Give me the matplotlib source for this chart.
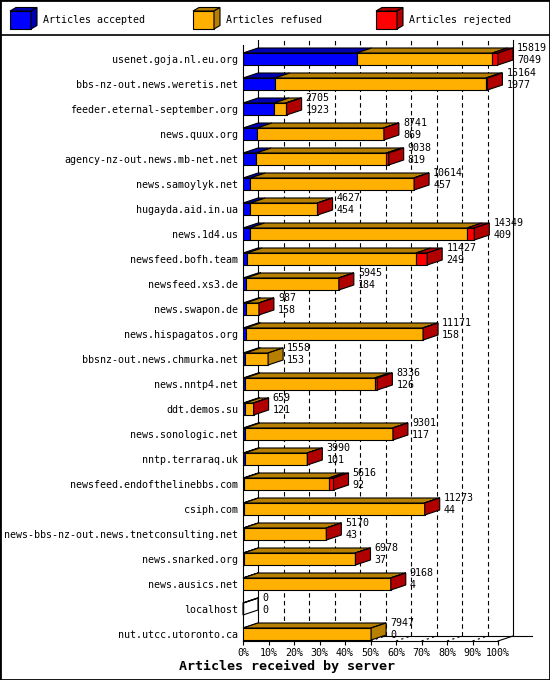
import numpy as np
import matplotlib
matplotlib.use('Agg')
import matplotlib.pyplot as plt
from matplotlib.patches import Polygon, Rectangle
from matplotlib.lines import Line2D

SERVERS = [
  'usenet.goja.nl.eu.org', 'bbs-nz-out.news.weretis.net',
  'feeder.eternal-september.org', 'news.quux.org',
  'agency-nz-out.news.mb-net.net', 'news.samoylyk.net',
  'hugayda.aid.in.ua', 'news.1d4.us', 'newsfeed.bofh.team',
  'newsfeed.xs3.de', 'news.swapon.de', 'news.hispagatos.org',
  'bbsnz-out.news.chmurka.net', 'news.nntp4.net', 'ddt.demos.su',
  'news.sonologic.net', 'nntp.terraraq.uk', 'newsfeed.endofthelinebbs.com',
  'csiph.com', 'news-bbs-nz-out.news.tnetconsulting.net',
  'news.snarked.org', 'news.ausics.net', 'localhost', 'nut.utcc.utoronto.ca',
]
TOTAL = [15819, 15164, 2705, 8741, 9038, 10614, 4627, 14349, 11427, 5945,
         987, 11171, 1558, 8336, 659, 9301, 3990, 5616, 11273, 5170,
         6978, 9168, 0, 7947]
ACCEPTED = [7049, 1977, 1923, 869, 819, 457, 454, 409, 249, 184,
            158, 158, 153, 126, 121, 117, 101, 92, 44, 43,
            37, 4, 0, 0]
# rejected counts are estimated from the width of the red segments
REJECTED = [350, 100, 60, 20, 150, 15, 10, 450, 700, 10,
            5, 20, 0, 170, 5, 10, 5, 300, 10, 5,
            5, 5, 0, 0]
LEGEND = ['Articles accepted', 'Articles refused', 'Articles rejected']

FRONT = ['#0000ff', '#ffb000', '#ff0000']
SHADE = ['#0000b0', '#b88000', '#b00000']
FONT = 'DejaVu Sans Mono'
W, H = 550, 680

total = np.array(TOTAL, dtype=float)
accepted = np.array(ACCEPTED, dtype=float)
rejected = np.array(REJECTED, dtype=float)
refused = total - accepted - rejected
series = [accepted, refused, rejected]
pct = 100.0 / total.max()

plt.rcParams['font.family'] = FONT
plt.rcParams['font.size'] = 7.2

fig = plt.figure(figsize=(W / 100, H / 100), dpi=100)

# main plot area: front plane of the 3d box
ax = fig.add_axes([243 / W, 1 - 641 / H, 255 / W, 596 / H])
n = len(SERVERS)
rows = np.arange(n)
ytop, ybot = -0.56, 23.28
ax.set_xlim(0, 100)
ax.set_ylim(ybot, ytop)
DX = 15 / 2.55   # depth in percent
DY = 5 / 25      # depth in rows
BH = 12 / 25     # bar height in rows
LW = 0.8

# back walls and dashed grid
for k in range(1, 10):
  ax.plot([10 * k + DX] * 2, [ybot - DY, ytop - DY], color='k', lw=LW,
          ls=(0, (4, 3)), zorder=1, clip_on=False)
for xw in (DX, 100 + DX):
  ax.plot([xw] * 2, [ybot - DY, ytop - DY], color='k', lw=LW, zorder=1,
          clip_on=False)
ax.plot([DX, 113.3], [ybot - DY] * 2, color='k', lw=LW, zorder=1, clip_on=False)
for k in range(0, 10):
  ax.plot([10 * k, 10 * k + DX], [ybot, ybot - DY], color='k', lw=LW,
          ls=(0, (2, 3)), zorder=1, clip_on=False)
ax.plot([100, 100 + DX], [ybot, ybot - DY], color='k', lw=LW, zorder=1,
        clip_on=False)

# bars
left = np.zeros(n)
for j, vals in enumerate(series):
  w = vals * pct
  ax.barh(rows, w, left=left, height=BH, color=FRONT[j], edgecolor='k',
          lw=LW, zorder=3)
  for i in rows:
    y0 = i - BH / 2
    top = [(left[i], y0), (left[i] + w[i], y0),
           (left[i] + w[i] + DX, y0 - DY), (left[i] + DX, y0 - DY)]
    ax.add_patch(Polygon(top, closed=True, fc=SHADE[j], ec='k', lw=LW,
                         zorder=3, clip_on=False))
  left = left + w

for i in rows:
  y0, y1 = i - BH / 2, i + BH / 2
  end = left[i]
  nz = [j for j in range(3) if series[j][i] > 0]
  fc = SHADE[nz[-1]] if nz else 'none'
  side = [(end, y0), (end + DX, y0 - DY), (end + DX, y1 - DY), (end, y1)]
  ax.add_patch(Polygon(side, closed=True, fc=fc, ec='k', lw=LW, zorder=3,
                       clip_on=False))
  ax.text(end + DX + 1.6, i - DY, '%d\n%d' % (TOTAL[i], ACCEPTED[i]),
          ha='left', va='center', linespacing=1.25, zorder=4)

ax.set_yticks(rows, SERVERS)
ax.tick_params(axis='y', length=0, pad=3.6)
ax.set_xticks(range(0, 101, 10), ['%d%%' % k for k in range(0, 101, 10)])
ax.tick_params(axis='x', length=3, width=LW, pad=2, direction='out')
for s in ('top', 'right'):
  ax.spines[s].set_visible(False)
for s in ('left', 'bottom'):
  ax.spines[s].set_linewidth(LW)
ax.patch.set_alpha(0)

# legend strip
lg = fig.add_axes([0, 1 - 35 / H, 1, 35 / H])
lg.set_xlim(0, W)
lg.set_ylim(35, 0)
lg.axis('off')
for x0, label, fc, sc in zip([10, 193, 376], LEGEND, FRONT, SHADE):
  lg.add_patch(Rectangle((x0, 11), 21, 18, fc=fc, ec='k', lw=LW))
  lg.add_patch(Polygon([(x0, 11), (x0 + 21, 11), (x0 + 27, 7.5), (x0 + 6, 7.5)],
                       closed=True, fc=sc, ec='k', lw=LW))
  lg.add_patch(Polygon([(x0 + 21, 11), (x0 + 27, 7.5), (x0 + 27, 25.5),
                        (x0 + 21, 29)], closed=True, fc=sc, ec='k', lw=LW))
  lg.text(x0 + 33, 20, label, ha='left', va='center')

fig.add_artist(Line2D([0, 1], [1 - 35 / H] * 2, color='k', lw=1.2,
                      transform=fig.transFigure))
fig.add_artist(Rectangle((0, 0), 1, 1, transform=fig.transFigure, fill=False,
                         ec='k', lw=2))
fig.text(287 / W, 1 - 666 / H, 'Articles received by server', ha='center',
         va='center', weight='bold', size=9.6)

fig.savefig('out.png', dpi=100)
